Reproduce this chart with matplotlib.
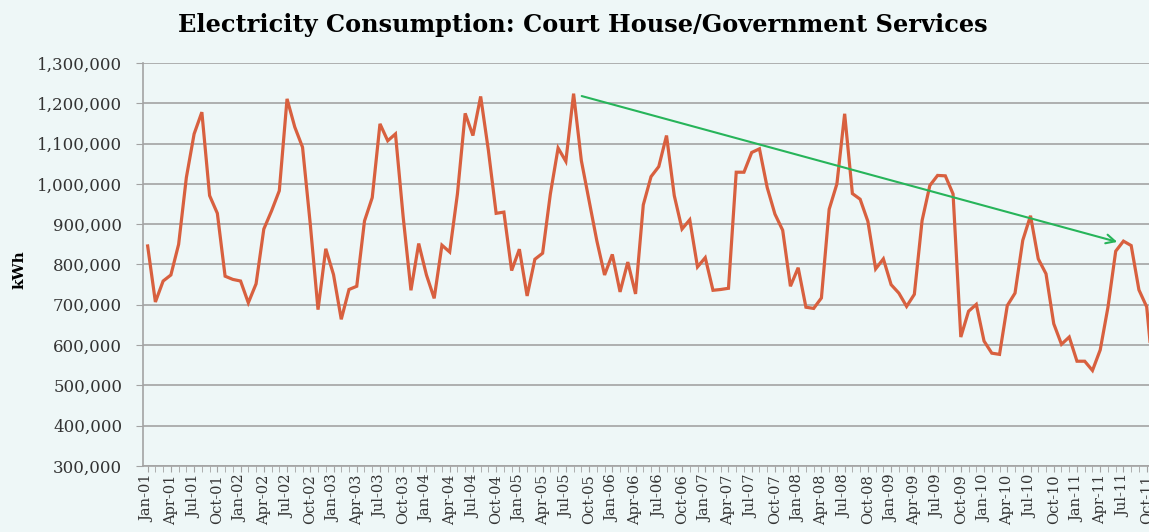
import matplotlib
matplotlib.use("Agg")
import matplotlib.pyplot as plt
from matplotlib.ticker import FuncFormatter, MultipleLocator

months = ["Jan", "Feb", "Mar", "Apr", "May", "Jun", "Jul", "Aug", "Sep", "Oct", "Nov", "Dec"]
years = [f"{y:02d}" for y in range(1, 12)]
categories = [f"{m}-{y}" for y in years for m in months][:131]  # Jan-01 .. Nov-11

kwh_2001 = [846, 707, 759, 774, 850, 1016, 1124, 1178, 971, 927, 771, 763]
kwh_2002 = [759, 705, 752, 888, 933, 983, 1211, 1141, 1091, 900, 688, 839]
kwh_2003 = [775, 664, 738, 746, 908, 966, 1149, 1107, 1124, 917, 736, 852]
kwh_2004 = [774, 716, 848, 831, 975, 1175, 1120, 1217, 1083, 927, 930, 785]
kwh_2005 = [838, 722, 813, 828, 975, 1089, 1056, 1224, 1058, 958, 859, 774]
kwh_2006 = [825, 732, 806, 727, 948, 1018, 1043, 1120, 971, 888, 911, 794]
kwh_2007 = [817, 736, 738, 741, 1029, 1029, 1078, 1087, 991, 925, 885, 746]
kwh_2008 = [792, 694, 691, 717, 937, 1000, 1174, 976, 962, 907, 789, 814]
kwh_2009 = [750, 729, 696, 726, 909, 996, 1021, 1020, 975, 620, 684, 701]
kwh_2010 = [610, 580, 577, 698, 729, 860, 921, 814, 777, 653, 602, 620]
kwh_2011 = [560, 560, 537, 588, 694, 833, 858, 847, 737, 695, 495]

values = [v * 1000 for v in (kwh_2001 + kwh_2002 + kwh_2003 + kwh_2004 + kwh_2005 +
                             kwh_2006 + kwh_2007 + kwh_2008 + kwh_2009 + kwh_2010 + kwh_2011)]

# trend arrow (category index, kWh)
trend_start = (56.05, 1218000)
trend_end = (125.2, 856000)

title = "Electricity Consumption: Court House/Government Services"
ylabel = "kWh"

bg = "#eef7f7"
line_color = "#d8603f"
grid_color = "#a3a3a3"
serif = ["DejaVu Serif"]

fig = plt.figure(figsize=(11.49, 5.32), dpi=100, facecolor=bg)
ax = fig.add_axes([143 / 1149, 1 - 466 / 532, 1 - 143 / 1149, (466 - 63) / 532])
ax.set_facecolor(bg)

x = list(range(len(values)))
ax.plot(x, values, color=line_color, lw=2.3, solid_joinstyle="miter", zorder=3)

ax.annotate("", xy=trend_end, xytext=trend_start,
            arrowprops=dict(arrowstyle="->", color="#27b45a", lw=1.5,
                            mutation_scale=16, shrinkA=0, shrinkB=0), zorder=4)

ax.yaxis.set_major_locator(MultipleLocator(100000))
ax.yaxis.set_major_formatter(FuncFormatter(lambda v, p: f"{int(v):,}"))
ax.grid(axis="y", color=grid_color, lw=1.2, zorder=1)
ax.set_axisbelow(True)

ax.set_xticks(range(0, len(categories), 3))
ax.set_xticklabels(categories[::3], rotation=90, family=serif, fontsize=10.5)
ax.set_xticks(range(len(categories)), minor=True)
ax.set_ylim(300000, 1300000)
ax.set_xlim(-0.6, 129.3)
ax.tick_params(axis="x", which="both", length=4, color=grid_color, pad=2)
ax.tick_params(axis="y", length=5, color=grid_color, pad=10, labelsize=12)
for lbl in ax.get_yticklabels():
    lbl.set_family(serif)
    lbl.set_color("#333333")
for lbl in ax.get_xticklabels():
    lbl.set_color("#333333")

for s in ["top", "right"]:
    ax.spines[s].set_visible(False)
ax.spines["left"].set_color(grid_color)
ax.spines["bottom"].set_color(grid_color)
ax.spines["left"].set_linewidth(1.2)
ax.spines["bottom"].set_linewidth(1.2)

fig.text(20 / 1149, 1 - 270 / 532, ylabel, rotation=90, ha="center", va="center",
         family=serif, fontweight="bold", fontsize=11)
fig.text(583 / 1149, 1 - 25 / 532, title, ha="center", va="center",
         family=serif, fontweight="bold", fontsize=17.3)

fig.savefig("out.png", dpi=100, facecolor=bg)
